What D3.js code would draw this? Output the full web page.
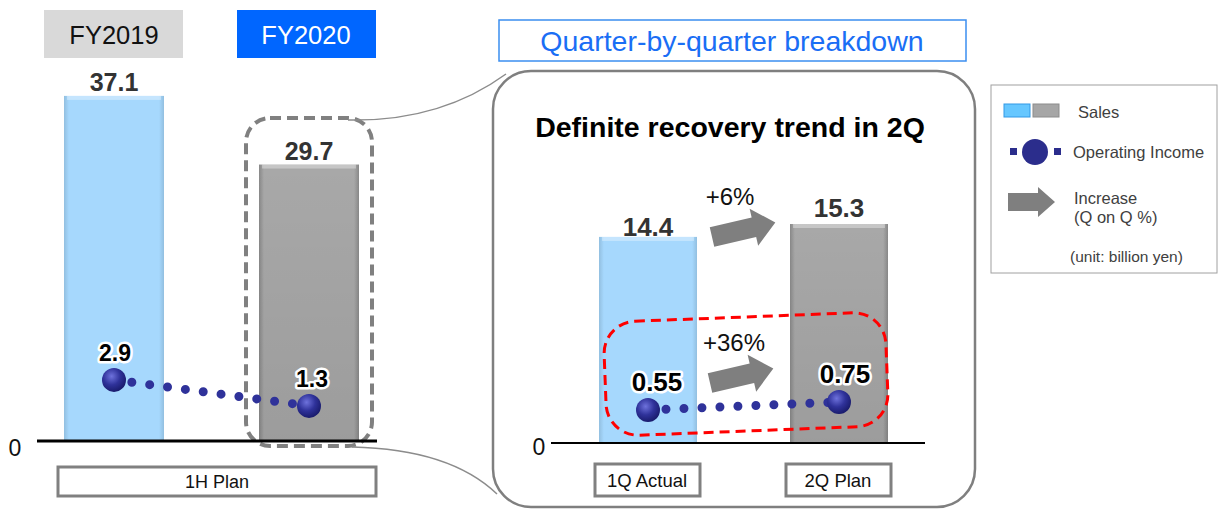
<!DOCTYPE html>
<html>
<head>
<meta charset="utf-8">
<script src="https://cdn.jsdelivr.net/npm/d3@7"></script>
<style>
  html, body { margin: 0; padding: 0; background: #fff; }
  svg { display: block; font-family: "Liberation Sans", Arial, sans-serif; }
</style>
</head>
<body>
<div id="chart"></div>
<script>
// Half-year comparison
const halfCats = ['FY2019', 'FY2020']
const halfSales = [37.1, 29.7]
const halfIncome = [2.9, 1.3]
const halfLabel = '1H Plan'

// Quarter breakdown
const qCats = ['1Q Actual', '2Q Plan']
const qSales = [14.4, 15.3]
const qIncome = [0.55, 0.75]
const qGrowth = ['+6%', '+36%']

const legendItems = ['Sales', 'Operating Income', 'Increase', '(Q on Q %)', '(unit: billion yen)']

const W = 1219, H = 512
const svg = d3.select('#chart').append('svg')
    .attr('width', W)
    .attr('height', H)

const defs = svg.append('defs')

// Bar fills - a bit of bevel on the edges
function barGradient(id, edge, mid) {
    let g = defs.append('linearGradient').attr('id', id)
        .attr('x1', 0).attr('x2', 1).attr('y1', 0).attr('y2', 0)
    g.append('stop').attr('offset', '0%').attr('stop-color', edge)
    g.append('stop').attr('offset', '5%').attr('stop-color', mid)
    g.append('stop').attr('offset', '95%').attr('stop-color', mid)
    g.append('stop').attr('offset', '100%').attr('stop-color', edge)
}
barGradient('blueBar', '#92bfe0', '#a6d8fd')
barGradient('greyBar', '#888888', '#a8a8a8')

let shade = defs.append('linearGradient').attr('id', 'greyShade')
    .attr('x1', 0).attr('x2', 0).attr('y1', 0).attr('y2', 1)
shade.append('stop').attr('offset', '0%').attr('stop-color', '#000').attr('stop-opacity', 0)
shade.append('stop').attr('offset', '100%').attr('stop-color', '#000').attr('stop-opacity', 0.07)

let ball = defs.append('radialGradient').attr('id', 'ball')
    .attr('cx', '40%').attr('cy', '35%').attr('r', '65%')
ball.append('stop').attr('offset', '0%').attr('stop-color', '#6e72dc')
ball.append('stop').attr('offset', '55%').attr('stop-color', '#2f329a')
ball.append('stop').attr('offset', '100%').attr('stop-color', '#1a1c6e')

const fills = ['url(#blueBar)', 'url(#greyBar)']

// Arrow pointing right, tail at 0,0
function arrowPath(len, body, head, headLen) {
    return `M0,${-body} L${len - headLen},${-body} L${len - headLen},${-head} L${len},0 ` +
        `L${len - headLen},${head} L${len - headLen},${body} L0,${body} Z`
}

function drawBars(g, cats, x, y, values, width) {
    let bars = g.selectAll('g.bar')
        .data(values)
        .enter()
        .append('g')
        .attr('class', 'bar')
    bars.append('rect')
        .attr('x', (d, i) => x(cats[i]) - width / 2)
        .attr('y', d => y(d))
        .attr('width', width)
        .attr('height', d => y(0) - y(d))
        .style('fill', (d, i) => fills[i])
    bars.filter((d, i) => i == 1).append('rect')
        .attr('x', x(cats[1]) - width / 2)
        .attr('y', d => y(d))
        .attr('width', width)
        .attr('height', d => y(0) - y(d))
        .style('fill', 'url(#greyShade)')
    // top bevel highlight
    bars.append('rect')
        .attr('x', (d, i) => x(cats[i]) - width / 2 + 3)
        .attr('y', d => y(d))
        .attr('width', width - 6)
        .attr('height', 4)
        .style('fill', '#fff')
        .style('opacity', 0.35)
}

function drawIncome(g, cats, x, y, values, r, labelSize, labelDx) {
    g.append('line')
        .attr('x1', x(cats[0]))
        .attr('y1', y(values[0]))
        .attr('x2', x(cats[1]))
        .attr('y2', y(values[1]))
        .style('stroke', '#2f329a')
        .style('stroke-width', 9)
        .style('stroke-linecap', 'round')
        .style('stroke-dasharray', '0 18')
    g.selectAll('circle.ball')
        .data(values)
        .enter()
        .append('circle')
        .attr('class', 'ball')
        .attr('cx', (d, i) => x(cats[i]))
        .attr('cy', d => y(d))
        .attr('r', r)
        .style('fill', 'url(#ball)')
    g.selectAll('text.inc')
        .data(values)
        .enter()
        .append('text')
        .attr('class', 'inc')
        .attr('x', (d, i) => x(cats[i]) + labelDx[i])
        .attr('y', d => y(d) - 19)
        .attr('text-anchor', 'middle')
        .style('font-size', labelSize + 'px')
        .style('font-weight', 'bold')
        .style('fill', '#000')
        .style('stroke', '#fff')
        .style('stroke-width', 5)
        .style('stroke-linejoin', 'round')
        .style('paint-order', 'stroke')
        .text(d => d)
}

// ---------------- Left: first half ----------------
const left = svg.append('g')
const xHalf = d3.scalePoint().domain(halfCats).range([114, 309])
const yHalf = d3.scaleLinear().domain([0, 40]).range([440, 69])
const yHalfInc = d3.scaleLinear().domain([0, 4]).range([427, 362])

// year headers
let heads = left.selectAll('g.head')
    .data(halfCats)
    .enter()
    .append('g')
    .attr('class', 'head')
heads.append('rect')
    .attr('x', (d, i) => xHalf(d) - 70 - i * 2)
    .attr('y', 10)
    .attr('width', 139)
    .attr('height', 48)
    .style('fill', (d, i) => i == 0 ? '#d9d9d9' : '#0066ff')
heads.append('text')
    .attr('x', (d, i) => xHalf(d) - i * 3)
    .attr('y', 44)
    .attr('text-anchor', 'middle')
    .style('font-size', '25.5px')
    .style('fill', (d, i) => i == 0 ? '#111' : '#fff')
    .text(d => d)

drawBars(left, halfCats, xHalf, yHalf, halfSales, 100)

left.selectAll('text.sales')
    .data(halfSales)
    .enter()
    .append('text')
    .attr('class', 'sales')
    .attr('x', (d, i) => xHalf(halfCats[i]))
    .attr('y', d => yHalf(d) - 5)
    .attr('text-anchor', 'middle')
    .style('font-size', '25px')
    .style('font-weight', 'bold')
    .style('fill', '#333')
    .text(d => d)

// dashed highlight around FY2020
left.append('rect')
    .attr('x', 246)
    .attr('y', 118)
    .attr('width', 126)
    .attr('height', 328)
    .attr('rx', 24)
    .style('fill', 'none')
    .style('stroke', '#808080')
    .style('stroke-width', 4)
    .style('stroke-dasharray', '11 6')

left.append('line')
    .attr('x1', 37).attr('x2', 377)
    .attr('y1', yHalf(0) + 1).attr('y2', yHalf(0) + 1)
    .style('stroke', '#000')
    .style('stroke-width', 3)
left.append('text')
    .attr('x', 15)
    .attr('y', 456)
    .attr('text-anchor', 'middle')
    .style('font-size', '23px')
    .style('fill', '#111')
    .text('0')

drawIncome(left, halfCats, xHalf, yHalfInc, halfIncome, 12, 23, [1, 3])

left.append('rect')
    .attr('x', 58).attr('y', 467)
    .attr('width', 318).attr('height', 29)
    .style('fill', '#fff')
    .style('stroke', '#808080')
    .style('stroke-width', 3)
left.append('text')
    .attr('x', 217).attr('y', 488)
    .attr('text-anchor', 'middle')
    .style('font-size', '18px')
    .style('fill', '#111')
    .text(halfLabel)

// ---------------- Callout ----------------
const callout = svg.append('g')
callout.append('path')
    .attr('d', 'M348,120 Q440,122 506,74')
    .style('fill', 'none')
    .style('stroke', '#8c8c8c')
    .style('stroke-width', 1.5)
callout.append('path')
    .attr('d', 'M352,447 Q450,449 497,494')
    .style('fill', 'none')
    .style('stroke', '#8c8c8c')
    .style('stroke-width', 1.5)
callout.append('rect')
    .attr('x', 493).attr('y', 71)
    .attr('width', 482).attr('height', 436)
    .attr('rx', 38)
    .style('fill', '#fff')
    .style('stroke', '#7f7f7f')
    .style('stroke-width', 2.5)

svg.append('rect')
    .attr('x', 499).attr('y', 20)
    .attr('width', 467).attr('height', 41)
    .style('fill', '#fff')
    .style('stroke', '#3b8ef0')
    .style('stroke-width', 1.5)
svg.append('text')
    .attr('x', 732).attr('y', 51)
    .attr('text-anchor', 'middle')
    .style('font-size', '28.5px')
    .style('fill', '#1a6ef5')
    .text('Quarter-by-quarter breakdown')

// ---------------- Right: quarters ----------------
const right = svg.append('g')
const xQ = d3.scalePoint().domain(qCats).range([648, 839])
const yQ = d3.scaleLinear().domain([0, 16]).range([443, 214])
const yQInc = d3.scaleLinear().domain([0, 1]).range([432, 392])

right.append('text')
    .attr('x', 730).attr('y', 137)
    .attr('text-anchor', 'middle')
    .style('font-size', '28.5px')
    .style('font-weight', 'bold')
    .style('fill', '#000')
    .text('Definite recovery trend in 2Q')

drawBars(right, qCats, xQ, yQ, qSales, 98)

right.selectAll('text.sales')
    .data(qSales)
    .enter()
    .append('text')
    .attr('class', 'sales')
    .attr('x', (d, i) => xQ(qCats[i]))
    .attr('y', (d, i) => yQ(d) - (i == 0 ? 1 : 7))
    .attr('text-anchor', 'middle')
    .style('font-size', '26px')
    .style('font-weight', 'bold')
    .style('fill', '#333')
    .text(d => d)

// growth arrows
const arrowSpots = [[712, 237], [710, 383]]
right.selectAll('path.grow')
    .data(qGrowth)
    .enter()
    .append('path')
    .attr('class', 'grow')
    .attr('d', arrowPath(65, 10, 19, 22))
    .attr('transform', (d, i) => `translate(${arrowSpots[i][0]},${arrowSpots[i][1]}) rotate(-13)`)
    .style('fill', '#7f7f7f')
right.selectAll('text.grow')
    .data(qGrowth)
    .enter()
    .append('text')
    .attr('class', 'grow')
    .attr('x', (d, i) => arrowSpots[i][0] + (i == 0 ? 18 : 24))
    .attr('y', (d, i) => arrowSpots[i][1] - 32)
    .attr('text-anchor', 'middle')
    .style('font-size', '24px')
    .style('fill', '#111')
    .text(d => d)

right.append('line')
    .attr('x1', 551).attr('x2', 925)
    .attr('y1', yQ(0)).attr('y2', yQ(0))
    .style('stroke', '#000')
    .style('stroke-width', 2)
right.append('text')
    .attr('x', 539)
    .attr('y', 455)
    .attr('text-anchor', 'middle')
    .style('font-size', '23px')
    .style('fill', '#111')
    .text('0')

drawIncome(right, qCats, xQ, yQInc, qIncome, 12, 26, [9, 6])

// red dashed highlight
right.append('rect')
    .attr('x', -141).attr('y', -57)
    .attr('width', 282).attr('height', 114)
    .attr('rx', 32)
    .attr('transform', 'translate(746,374) rotate(-2.2)')
    .style('fill', 'none')
    .style('stroke', '#ff0000')
    .style('stroke-width', 3)
    .style('stroke-dasharray', '10 6')

right.selectAll('g.cat')
    .data(qCats)
    .enter()
    .append('g')
    .attr('class', 'cat')
    .each(function(d) {
        let g = d3.select(this)
        g.append('rect')
            .attr('x', xQ(d) - 53).attr('y', 464)
            .attr('width', 105).attr('height', 32)
            .style('fill', '#fff')
            .style('stroke', '#808080')
            .style('stroke-width', 3)
        g.append('text')
            .attr('x', xQ(d) - 1).attr('y', 487)
            .attr('text-anchor', 'middle')
            .style('font-size', '18.5px')
            .style('fill', '#111')
            .text(d)
    })

// ---------------- Legend ----------------
const legend = svg.append('g')
legend.append('rect')
    .attr('x', 991).attr('y', 85)
    .attr('width', 226).attr('height', 188)
    .style('fill', '#fff')
    .style('stroke', '#a0a0a0')
    .style('stroke-width', 1)
legend.append('rect')
    .attr('x', 1004).attr('y', 104)
    .attr('width', 26).attr('height', 13)
    .style('fill', '#66c7ff')
    .style('stroke', '#3399e6')
legend.append('rect')
    .attr('x', 1033).attr('y', 104)
    .attr('width', 26).attr('height', 13)
    .style('fill', '#a6a6a6')
    .style('stroke', '#8c8c8c')
legend.append('rect')
    .attr('x', 1010).attr('y', 148)
    .attr('width', 7).attr('height', 7)
    .style('fill', '#2b2d8c')
legend.append('rect')
    .attr('x', 1054).attr('y', 148)
    .attr('width', 7).attr('height', 7)
    .style('fill', '#2b2d8c')
legend.append('circle')
    .attr('cx', 1035).attr('cy', 152)
    .attr('r', 13)
    .style('fill', '#2b2d8c')
legend.append('path')
    .attr('d', arrowPath(47, 9, 15, 17))
    .attr('transform', 'translate(1008,202)')
    .style('fill', '#7f7f7f')

const legendPos = [[1078, 118], [1073, 158], [1074, 204], [1074, 223], [1070, 262]]
legend.selectAll('text')
    .data(legendItems)
    .enter()
    .append('text')
    .attr('x', (d, i) => legendPos[i][0])
    .attr('y', (d, i) => legendPos[i][1])
    .style('font-size', (d, i) => i == 4 ? '15.5px' : '16.5px')
    .style('fill', '#404040')
    .text(d => d)
</script>
</body>
</html>
